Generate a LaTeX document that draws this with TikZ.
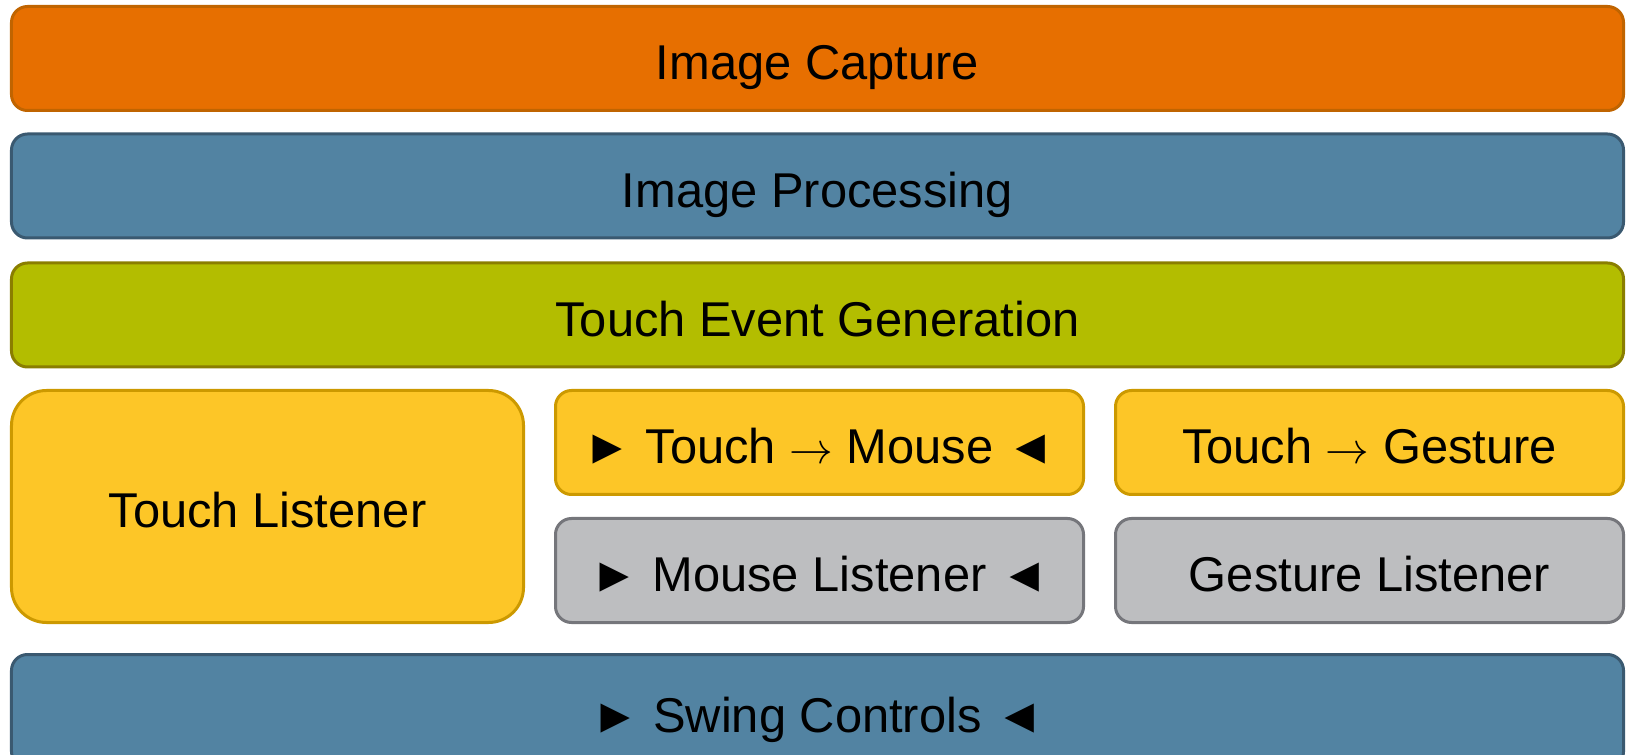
\documentclass[tikz,border=0pt]{standalone}
\usepackage{fontspec}
\setmainfont{Liberation Sans}
\definecolor{capfill}{HTML}{E76F00}
\definecolor{capline}{HTML}{C06400}
\definecolor{procfill}{HTML}{5283A2}
\definecolor{procline}{HTML}{3A5970}
\definecolor{genfill}{HTML}{B3BD00}
\definecolor{genline}{HTML}{8A7E00}
\definecolor{touchfill}{HTML}{FDC627}
\definecolor{touchline}{HTML}{CC9900}
\definecolor{listfill}{HTML}{BDBEC0}
\definecolor{listline}{HTML}{75767B}
\newcommand{\arr}{$\rightarrow$}

\begin{document}
\begin{tikzpicture}[x=0.2mm, y=-0.2mm,
    layer/.style={draw, rounded corners=3.2mm, line width=0.6mm, inner sep=0pt,
      font=\fontsize{27.8}{33}\selectfont, text=black, text height=24.4pt, text depth=0pt},
    wide/.style={layer, minimum width=322.4mm, minimum height=20.8mm}]
      \useasboundingbox (0,0) rectangle (1626,755);
      \node [wide, fill=capfill, draw=capline] (capture) at (817.5,58.5) {Image Capture};
      \node [wide, fill=procfill, draw=procline] (processing) at (817.5,186) {Image Processing};
      \node [wide, fill=genfill, draw=genline] (generation) at (817.5,315) {Touch Event Generation};
      \node [layer, fill=touchfill, draw=touchline, rounded corners=7mm, minimum width=102.4mm, minimum height=46.4mm] (touchlistener) at (267.5,506.5) {Touch Listener};
      \node [layer, fill=touchfill, draw=touchline, minimum width=105.6mm, minimum height=20.8mm] (touchmouse) at (819.5,442.5) {► Touch \arr{} Mouse ◄};
      \node [layer, fill=touchfill, draw=touchline, minimum width=101.6mm, minimum height=20.8mm] (touchgesture) at (1369.5,442.5) {Touch \arr{} Gesture};
      \node [layer, fill=listfill, draw=listline, minimum width=105.6mm, minimum height=20.8mm] (mouselistener) at (819.5,570.5) {► Mouse Listener ◄};
      \node [layer, fill=listfill, draw=listline, minimum width=101.6mm, minimum height=20.8mm] (gesturelistener) at (1369.5,570.5) {Gesture Listener};
      \node [wide, fill=procfill, draw=procline, minimum height=22.6mm] (swing) at (817.5,711) {► Swing Controls ◄};
    \end{tikzpicture}
\end{document}
